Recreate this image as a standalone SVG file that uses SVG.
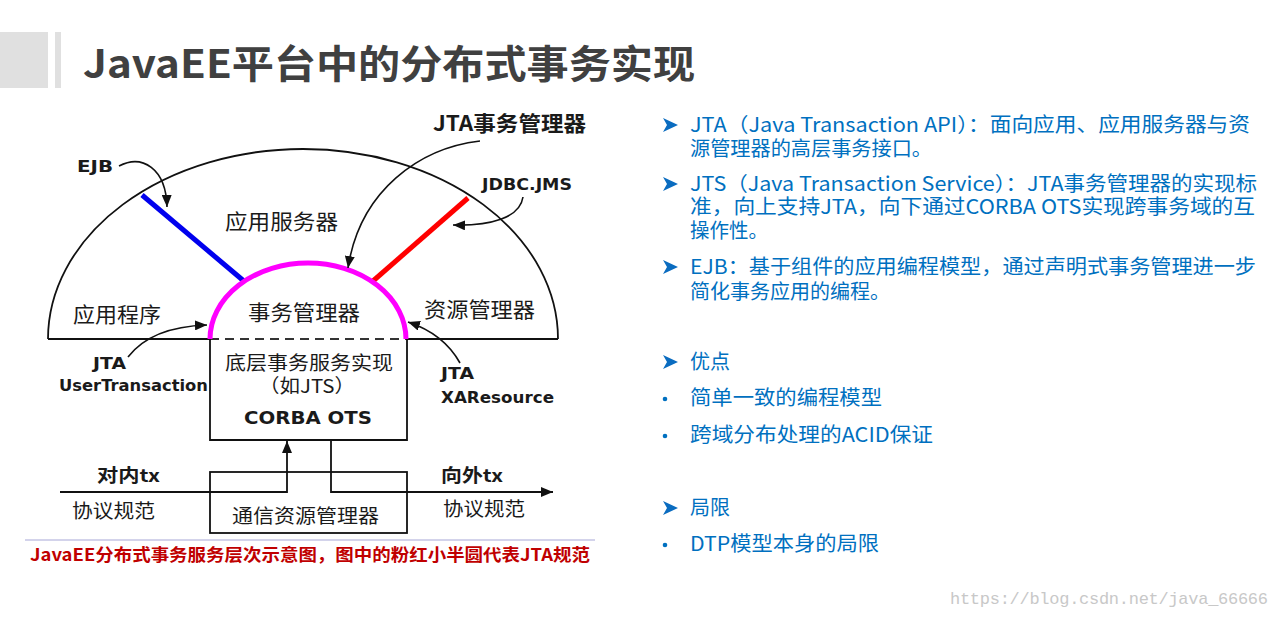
<svg xmlns="http://www.w3.org/2000/svg" width="1280" height="618" viewBox="0 0 1280 618">
<style>
.cn{font-family:"Noto Sans CJK SC","Noto Sans",sans-serif;fill:#1a1a1a}
.lat{font-family:"DejaVu Sans",sans-serif;font-weight:bold;fill:#1a1a1a}
.rt{font-family:"Noto Sans CJK SC","Noto Sans",sans-serif;fill:#0070c0;font-size:20px}
.ln{fill:none;stroke:#111;stroke-width:1.8}
.ann{fill:none;stroke:#111;stroke-width:1.6}
.arw{fill:#0a6cc0}
</style>
<defs>
<marker id="ah" viewBox="0 0 12 10" refX="12" refY="5" markerWidth="12" markerHeight="10" markerUnits="userSpaceOnUse" orient="auto">
<path d="M0,0 L12,5 L0,10 Z" fill="#111"/>
</marker>
<path id="bl" d="M0,0 L15,7 L0,14 L4,7 Z"/>
</defs>
<rect width="1280" height="618" fill="#ffffff"/>
<g id="title">
<rect x="0" y="32" width="48" height="56" fill="#e0e0e0"/>
<rect x="55" y="32" width="6" height="56" fill="#e0e0e0"/>
<text x="83" y="78" font-family="Noto Sans CJK SC,sans-serif" font-weight="bold" font-size="39" fill="#404040" textLength="612" lengthAdjust="spacingAndGlyphs">JavaEE平台中的分布式事务实现</text>
</g>
<g id="connectors">
<path class="ln" d="M48,339 A255,190 0 0 1 558,339"/>
<path class="ln" d="M48,339 H210"/>
<path class="ln" d="M407,339 H558"/>
<path d="M210,339 H407" fill="none" stroke="#333" stroke-width="1.8" stroke-dasharray="9,6"/>
<line x1="142" y1="195" x2="245" y2="282" stroke="#0000ee" stroke-width="5"/>
<line x1="468" y1="198" x2="373" y2="281" stroke="#ff0000" stroke-width="5"/>
<path d="M210,339 A98,76 0 0 1 406,339" fill="none" stroke="#ff00ff" stroke-width="5"/>
<path class="ln" d="M60,492 H287 V441" marker-end="url(#ah)"/>
<path class="ln" d="M331,440 V492 H553" marker-end="url(#ah)"/>
<path class="ann" d="M119,166 C142,154 166,168 167,207" marker-end="url(#ah)"/>
<path class="ann" d="M480,141 C420,148 360,190 348,268" marker-end="url(#ah)"/>
<path class="ann" d="M523,197 C520,218 490,226 453,225" marker-end="url(#ah)"/>
<path class="ann" d="M128,357 C145,335 175,326 207,325" marker-end="url(#ah)"/>
<path class="ann" d="M460,363 C450,345 432,330 408,322" marker-end="url(#ah)"/>
</g>
<g id="app-server"><text class="cn" x="225" y="229" font-size="21" textLength="113" lengthAdjust="spacingAndGlyphs">应用服务器</text></g>
<g id="app"><text class="cn" x="73" y="322" font-size="21" textLength="88" lengthAdjust="spacingAndGlyphs">应用程序</text></g>
<g id="tm"><text class="cn" x="248" y="320" font-size="21" textLength="112" lengthAdjust="spacingAndGlyphs">事务管理器</text></g>
<g id="rm"><text class="cn" x="424" y="317" font-size="21" textLength="111" lengthAdjust="spacingAndGlyphs">资源管理器</text></g>
<g id="ejb-label"><text class="lat" x="77" y="172" font-size="16" textLength="36" lengthAdjust="spacingAndGlyphs">EJB</text></g>
<g id="jta-tm-label"><text class="cn" x="433" y="131" font-size="21" font-weight="bold" textLength="153" lengthAdjust="spacingAndGlyphs">JTA事务管理器</text></g>
<g id="jdbc-label"><text class="lat" x="482" y="190" font-size="15" textLength="90" lengthAdjust="spacingAndGlyphs">JDBC.JMS</text></g>
<g id="ut-label">
<text class="lat" x="93" y="369" font-size="15" textLength="33" lengthAdjust="spacingAndGlyphs">JTA</text>
<text class="lat" x="59" y="391" font-size="15" textLength="149" lengthAdjust="spacingAndGlyphs">UserTransaction</text>
</g>
<g id="xa-label">
<text class="lat" x="441" y="379" font-size="15" textLength="33" lengthAdjust="spacingAndGlyphs">JTA</text>
<text class="lat" x="441" y="403" font-size="15" textLength="113" lengthAdjust="spacingAndGlyphs">XAResource</text>
</g>
<g id="impl">
<path class="ln" d="M210,339 V440 H407 V339"/>
<text class="cn" x="225" y="370" font-size="19" textLength="168" lengthAdjust="spacingAndGlyphs">底层事务服务实现</text>
<text class="cn" x="259" y="393" font-size="19" textLength="96" lengthAdjust="spacingAndGlyphs">（如JTS）</text>
<text class="lat" x="244" y="424" font-size="17" textLength="128" lengthAdjust="spacingAndGlyphs">CORBA  OTS</text>
</g>
<g id="comm">
<rect class="ln" x="210" y="472" width="197" height="61"/>
<text class="cn" x="232" y="523" font-size="19" textLength="147" lengthAdjust="spacingAndGlyphs">通信资源管理器</text>
</g>
<g id="flow-labels">
<text class="cn" x="97" y="482" font-size="18" font-weight="bold" textLength="63" lengthAdjust="spacingAndGlyphs">对内tx</text>
<text class="cn" x="72" y="518" font-size="19" textLength="83" lengthAdjust="spacingAndGlyphs">协议规范</text>
<text class="cn" x="441" y="482" font-size="18" font-weight="bold" textLength="62" lengthAdjust="spacingAndGlyphs">向外tx</text>
<text class="cn" x="443" y="516" font-size="19" textLength="82" lengthAdjust="spacingAndGlyphs">协议规范</text>
</g>
<g id="caption">
<line x1="25" y1="540" x2="595" y2="540" stroke="#c4c4e4" stroke-width="1.5"/>
<text x="30" y="561" font-family="Noto Sans CJK SC,sans-serif" font-weight="bold" font-size="17" fill="#c00000" textLength="560" lengthAdjust="spacingAndGlyphs">JavaEE分布式事务服务层次示意图，图中的粉红小半圆代表JTA规范</text>
</g>
<g id="notes">
<use href="#bl" class="arw" x="663" y="118"/>
<text class="rt" x="690" y="132" textLength="560" lengthAdjust="spacingAndGlyphs">JTA（Java Transaction API）：面向应用、应用服务器与资</text>
<text class="rt" x="690" y="156" textLength="242" lengthAdjust="spacingAndGlyphs">源管理器的高层事务接口。</text>
<use href="#bl" class="arw" x="663" y="177"/>
<text class="rt" x="690" y="191" textLength="567" lengthAdjust="spacingAndGlyphs">JTS（Java Transaction Service）：JTA事务管理器的实现标</text>
<text class="rt" x="690" y="214" textLength="565" lengthAdjust="spacingAndGlyphs">准，向上支持JTA，向下通过CORBA OTS实现跨事务域的互</text>
<text class="rt" x="690" y="238" textLength="78" lengthAdjust="spacingAndGlyphs">操作性。</text>
<use href="#bl" class="arw" x="663" y="260"/>
<text class="rt" x="690" y="274" textLength="566" lengthAdjust="spacingAndGlyphs">EJB：基于组件的应用编程模型，通过声明式事务管理进一步</text>
<text class="rt" x="690" y="299" textLength="200" lengthAdjust="spacingAndGlyphs">简化事务应用的编程。</text>
<use href="#bl" class="arw" x="663" y="355"/>
<text class="rt" x="690" y="369">优点</text>
<circle cx="665" cy="399" r="2.3" fill="#0070c0"/>
<text class="rt" x="690" y="405" textLength="192" lengthAdjust="spacingAndGlyphs">简单一致的编程模型</text>
<circle cx="665" cy="436" r="2.3" fill="#0070c0"/>
<text class="rt" x="690" y="442" textLength="243" lengthAdjust="spacingAndGlyphs">跨域分布处理的ACID保证</text>
<use href="#bl" class="arw" x="663" y="501"/>
<text class="rt" x="690" y="515">局限</text>
<circle cx="665" cy="545" r="2.3" fill="#0070c0"/>
<text class="rt" x="690" y="551" textLength="189" lengthAdjust="spacingAndGlyphs">DTP模型本身的局限</text>
</g>
<g id="watermark">
<text x="950" y="604" font-family="Liberation Mono,monospace" font-size="17" fill="#c8c8c8" textLength="318">https://blog.csdn.net/java_66666</text>
</g>
</svg>
